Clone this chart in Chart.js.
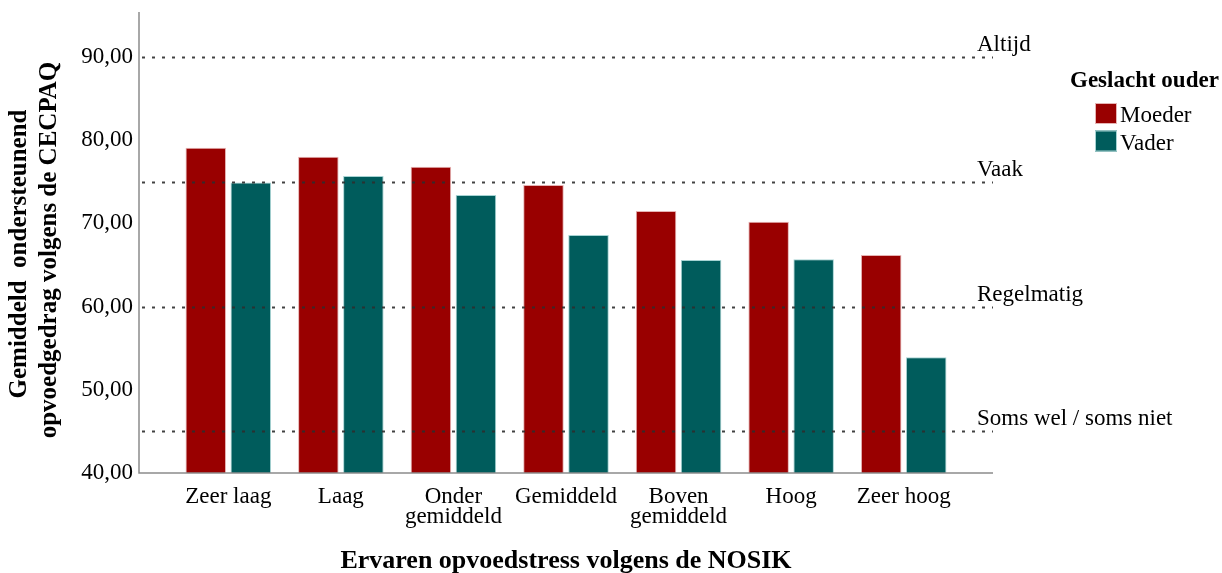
<!DOCTYPE html>
<html>
<head>
<meta charset="utf-8">
<script src="https://cdn.jsdelivr.net/npm/chart.js@4.4.0/dist/chart.umd.min.js"></script>
<style>
  body { margin: 0; background: #fff; }
  #wrap { width: 1222px; height: 573px; }
</style>
</head>
<body>
<div id="wrap"><canvas id="stressChart" width="1222" height="573"></canvas></div>
<script>
const categories = ["Zeer laag", "Laag", ["Onder", "gemiddeld"], "Gemiddeld", ["Boven", "gemiddeld"], "Hoog", "Zeer hoog"];
const moederValues = [79.1, 78.0, 76.8, 74.6, 71.5, 70.2, 66.2];
const vaderValues = [74.9, 75.7, 73.4, 68.6, 65.6, 65.7, 53.9];
const seriesNames = ["Moeder", "Vader"];
const refValues = [45, 60, 75, 90];
const refLabels = ["Soms wel / soms niet", "Regelmatig", "Vaak", "Altijd"];
const yTitle = ["Gemiddeld  ondersteunend", "opvoedgedrag volgens de CECPAQ"];
const xTitle = "Ervaren opvoedstress volgens de NOSIK";
const legendTitle = "Geslacht ouder";

const SERIF = "'Liberation Serif', 'Times New Roman', serif";
const AXIS_LEFT = 139, AXIS_RIGHT = 993;

// lijnen, labels, titels en legenda
const extras = {
  id: "extras",
  afterDatasetsDraw(chart) {
    const ctx = chart.ctx;
    const y = chart.scales.y;
    const area = chart.chartArea;
    ctx.save();

    // stippellijnen
    ctx.strokeStyle = "rgba(45,45,45,0.9)";
    ctx.lineWidth = 2;
    ctx.setLineDash([3, 7]);
    refValues.forEach(function (v) {
      const py = Math.round(y.getPixelForValue(v)) + 0.5;
      ctx.beginPath();
      ctx.moveTo(AXIS_LEFT + 3, py);
      ctx.lineTo(AXIS_RIGHT, py);
      ctx.stroke();
    });
    ctx.setLineDash([]);

    // assen
    ctx.strokeStyle = "#8c8c8c";
    ctx.lineWidth = 1.5;
    ctx.beginPath();
    ctx.moveTo(AXIS_LEFT, area.top);
    ctx.lineTo(AXIS_LEFT, area.bottom);
    ctx.lineTo(AXIS_RIGHT, area.bottom);
    ctx.stroke();

    // labels bij de lijnen
    ctx.fillStyle = "#000";
    ctx.font = "23px " + SERIF;
    ctx.textAlign = "left";
    ctx.textBaseline = "alphabetic";
    refValues.forEach(function (v, i) {
      ctx.fillText(refLabels[i], 977, y.getPixelForValue(v) - 6);
    });

    // y-as titel
    ctx.font = "bold 25px " + SERIF;
    ctx.textAlign = "center";
    ctx.save();
    ctx.translate(26, 254);
    ctx.rotate(-Math.PI / 2);
    ctx.fillText(yTitle[0], 0, 0);
    ctx.restore();
    ctx.save();
    ctx.translate(56, 250);
    ctx.rotate(-Math.PI / 2);
    ctx.fillText(yTitle[1], 0, 0);
    ctx.restore();

    // x-as titel
    ctx.font = "bold 26px " + SERIF;
    ctx.fillText(xTitle, 566, 568);

    // legenda
    ctx.textAlign = "left";
    ctx.font = "bold 23px " + SERIF;
    ctx.fillText(legendTitle, 1070, 87);
    ctx.font = "23px " + SERIF;
    chart.data.datasets.forEach(function (ds, i) {
      const top = 103 + i * 27.5;
      ctx.fillStyle = ds.backgroundColor;
      ctx.fillRect(1095, top, 22, 21);
      ctx.strokeStyle = ds.borderColor;
      ctx.lineWidth = 1;
      ctx.strokeRect(1095.5, top + 0.5, 21, 20);
      ctx.fillStyle = "#000";
      ctx.fillText(ds.label, 1120, top + 19);
    });

    ctx.restore();
  },
};

new Chart(document.getElementById("stressChart").getContext("2d"), {
  type: "bar",
  data: {
    labels: categories,
    datasets: [
      {
        label: seriesNames[0],
        data: moederValues,
        backgroundColor: "#990000",
        borderColor: "#e6b3b3",
        borderWidth: 1,
        borderSkipped: "bottom",
      },
      {
        label: seriesNames[1],
        data: vaderValues,
        backgroundColor: "#005c5c",
        borderColor: "#a6d3d3",
        borderWidth: 1,
        borderSkipped: "bottom",
      },
    ],
  },
  options: {
    responsive: false,
    animation: false,
    layout: { padding: { top: 12, right: 262, left: 0, bottom: 0 } },
    categoryPercentage: 0.8,
    barPercentage: 0.9,
    plugins: {
      legend: { display: false },
      tooltip: { enabled: false },
    },
    scales: {
      x: {
        offset: true,
        grid: { display: false, drawTicks: false },
        border: { display: false },
        ticks: {
          color: "#000",
          font: { family: SERIF, size: 23, lineHeight: 0.88 },
          padding: 14,
          maxRotation: 0,
          autoSkip: false,
        },
        afterFit: function (scale) {
          scale.height = 100;
          scale.paddingLeft = 0;
          scale.paddingRight = 0;
        },
      },
      y: {
        min: 40,
        max: 95.4,
        grid: { display: false, drawTicks: false },
        border: { display: false },
        ticks: {
          stepSize: 10,
          color: "#000",
          font: { family: SERIF, size: 23 },
          padding: 39,
          callback: function (v) {
            return v % 10 === 0 ? v.toFixed(2).replace(".", ",") : "";
          },
        },
        afterFit: function (scale) {
          scale.width = 172;
          scale.paddingTop = 0;
          scale.paddingBottom = 0;
        },
      },
    },
  },
  plugins: [extras],
});
</script>
</body>
</html>
